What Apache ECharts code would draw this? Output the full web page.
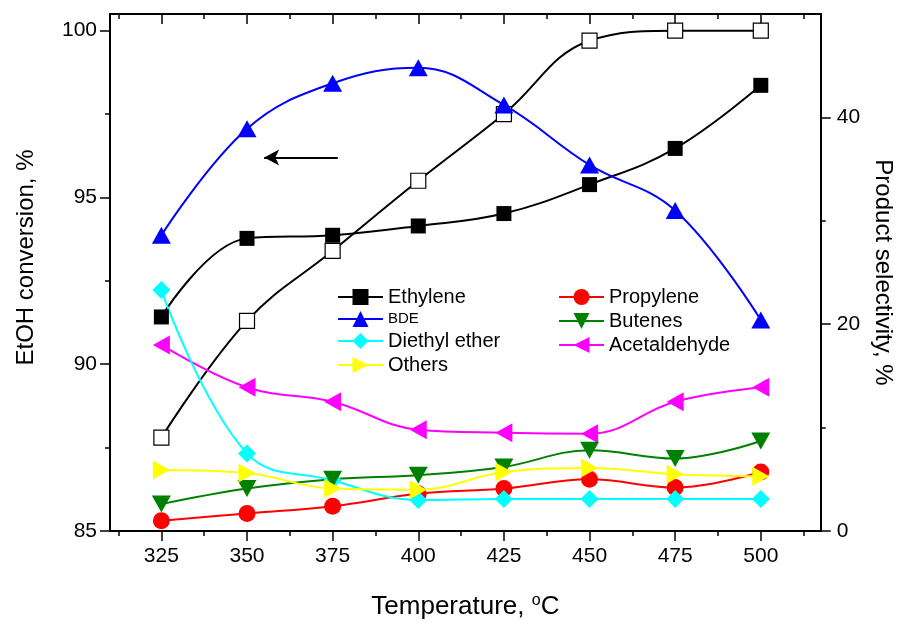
<!DOCTYPE html>
<html>
<head>
<meta charset="utf-8">
<script src="https://cdn.jsdelivr.net/npm/echarts@6/dist/echarts.min.js"></script>
<style>
  html, body { margin: 0; padding: 0; background: #fff; }
  #chart { width: 903px; height: 625px; }
</style>
</head>
<body>
<div id="chart"></div>
<script>
// temperatures, °C
var temps = [325, 350, 375, 400, 425, 450, 475, 500];
var xTicks = [325, 350, 375, 400, 425, 450, 475, 500];
var xMinorTicks = [312.5, 337.5, 362.5, 387.5, 412.5, 437.5, 462.5, 487.5, 512.5];
var leftTicks = [85, 90, 95, 100];
var leftMinorTicks = [87.5, 92.5, 97.5];
var rightTicks = [0, 20, 40];
var rightMinorTicks = [10, 30];

// EtOH conversion, % (left axis)
var conversion = [87.8, 91.3, 93.4, 95.5, 97.5, 99.7, 100.0, 100.0];
// product selectivity, % (right axis)
var ethylene = [20.7, 28.3, 28.6, 29.5, 30.7, 33.5, 37.0, 43.1];
var bde = [28.6, 38.9, 43.3, 44.8, 41.2, 35.4, 31.0, 20.4];
var diethylEther = [23.3, 7.5, 4.9, 3.0, 3.1, 3.1, 3.1, 3.1];
var others = [5.9, 5.6, 4.1, 4.0, 5.7, 6.1, 5.5, 5.3];
var propylene = [1.0, 1.7, 2.4, 3.6, 4.1, 5.0, 4.2, 5.7];
var butenes = [2.6, 4.1, 5.0, 5.4, 6.2, 7.8, 7.0, 8.7];
var acetaldehyde = [18.0, 13.9, 12.5, 9.8, 9.5, 9.4, 12.5, 13.9];

// arrow pointing at the left axis
var arrowFrom = [376.5, 96.2];
var arrowTo = [355, 96.2];

function pairs(ys) {
  return temps.map(function (t, i) { return [t, ys[i]]; });
}

var FONT = 'Liberation Sans';
var xMin = 310, xMax = 517.5;

function xAxis(pos, values, len, inside, extra) {
  return Object.assign({
    type: 'value', position: pos, min: xMin, max: xMax,
    axisLine: { show: false, onZero: false },
    axisTick: { show: true, inside: inside, length: len, customValues: values,
      lineStyle: { color: '#000', width: 1.5 } },
    axisLabel: { show: false },
    splitLine: { show: false }
  }, extra || {});
}

function yAxis(pos, min, max, values, len, extra) {
  return Object.assign({
    type: 'value', position: pos, min: min, max: max,
    axisLine: { show: false, onZero: false },
    axisTick: { show: true, inside: false, length: len, customValues: values,
      lineStyle: { color: '#000', width: 1.5 } },
    axisLabel: { show: false },
    splitLine: { show: false }
  }, extra || {});
}

function lineSeries(name, data, color, symbol, size, rotate) {
  return {
    name: name, type: 'line', xAxisIndex: 0, yAxisIndex: 1,
    data: pairs(data), smooth: 0.4,
    symbol: symbol, symbolSize: size, symbolRotate: rotate || 0,
    lineStyle: { color: color, width: 2 },
    itemStyle: { color: color },
    emphasis: { disabled: true }
  };
}

var chart = echarts.init(document.getElementById('chart'));
var option = {
  animation: false,
  backgroundColor: '#fff',
  grid: { left: 110, right: 82, top: 14, bottom: 93 },
  xAxis: [
    xAxis('bottom', xTicks, 10, false, {
      axisLine: { show: true, onZero: false, lineStyle: { color: '#000', width: 2 } },
      axisLabel: { show: true, customValues: xTicks, margin: 15, color: '#000',
        fontFamily: FONT, fontSize: 21 },
      name: 'Temperature, {sup|o}C', nameLocation: 'middle', nameGap: 62,
      nameTextStyle: { color: '#000', fontFamily: FONT, fontSize: 26,
        rich: { sup: { fontFamily: FONT, fontSize: 16, verticalAlign: 'top', padding: [0, 0, 12, 0] } } }
    }),
    xAxis('bottom', xMinorTicks, 5, false),
    xAxis('top', xTicks, 10, true, {
      axisLine: { show: true, onZero: false, lineStyle: { color: '#000', width: 2 } }
    }),
    xAxis('top', xMinorTicks, 5, true)
  ],
  yAxis: [
    yAxis('left', 85, 100.5, leftTicks, 10, {
      axisLine: { show: true, onZero: false, lineStyle: { color: '#000', width: 2 } },
      axisLabel: { show: true, customValues: leftTicks, margin: 13, color: '#000',
        fontFamily: FONT, fontSize: 21 },
      name: 'EtOH conversion, %', nameLocation: 'middle', nameGap: 72,
      nameTextStyle: { color: '#000', fontFamily: FONT, fontSize: 24, padding: [0, 0, 0, 30] }
    }),
    yAxis('right', 0, 50, rightTicks, 10, {
      axisLine: { show: true, onZero: false, lineStyle: { color: '#000', width: 2 } },
      axisLabel: { show: true, customValues: rightTicks, margin: 16, color: '#000',
        fontFamily: FONT, fontSize: 21 },
      name: 'Product selectivity, %', nameLocation: 'middle', nameGap: 50, nameRotate: -90,
      nameTextStyle: { color: '#000', fontFamily: FONT, fontSize: 24 }
    }),
    yAxis('left', 85, 100.5, leftMinorTicks, 5),
    yAxis('right', 0, 50, rightMinorTicks, 5)
  ],
  legend: [
    {
      orient: 'vertical', left: 332, top: 282, itemWidth: 45, itemHeight: 20, itemGap: 4,
      textStyle: { color: '#000', fontFamily: FONT, fontSize: 20 },
      data: ['Ethylene', { name: 'BDE', textStyle: { fontSize: 15 } }, 'Diethyl ether', 'Others']
    },
    {
      orient: 'vertical', left: 553, top: 282, itemWidth: 45, itemHeight: 20, itemGap: 4,
      textStyle: { color: '#000', fontFamily: FONT, fontSize: 20 },
      data: ['Propylene', 'Butenes', 'Acetaldehyde']
    }
  ],
  series: [
    {
      name: 'Conversion', type: 'line', xAxisIndex: 0, yAxisIndex: 0,
      data: pairs(conversion), smooth: 0.4,
      symbol: 'rect', symbolSize: 15,
      lineStyle: { color: '#000', width: 2 },
      itemStyle: { color: '#fff', borderColor: '#000', borderWidth: 1.2 },
      emphasis: { disabled: true },
      markLine: {
        silent: true, symbol: ['none', 'arrow'], symbolSize: [12, 15],
        label: { show: false },
        lineStyle: { color: '#000', width: 2, type: 'solid' },
        data: [[{ coord: arrowFrom }, { coord: arrowTo }]]
      }
    },
    lineSeries('Ethylene', ethylene, '#000000', 'rect', 15),
    lineSeries('BDE', bde, '#0000ff', 'triangle', [19, 17]),
    lineSeries('Acetaldehyde', acetaldehyde, '#ff00ff', 'triangle', [19, 17], 90),
    lineSeries('Propylene', propylene, '#ff0000', 'circle', 17),
    lineSeries('Diethyl ether', diethylEther, '#00ffff', 'diamond', 18),
    lineSeries('Butenes', butenes, '#008000', 'triangle', [19, 17], 180),
    lineSeries('Others', others, '#ffff00', 'triangle', [19, 17], -90)
  ]
};
chart.setOption(option);
</script>
</body>
</html>
